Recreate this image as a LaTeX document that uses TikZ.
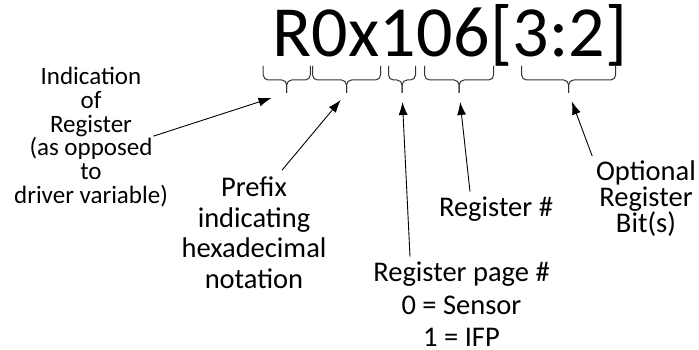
\documentclass[tikz,border=0pt]{standalone}
\usepackage{fontspec}
\setmainfont{Carlito}
\usetikzlibrary{positioning,calc,arrows.meta}

\tikzset{
  code/.style    = {font=\fontsize{72}{72}\selectfont, inner sep=0pt},
  note/.style    = {align=center, inner sep=0pt},
  grpbrace/.style = {draw=black!80, line width=1pt, rounded corners=5pt},
  pointer/.style = {-{Latex[length=13pt,width=9pt]}, line width=0.9pt, shorten >=9pt}
}

% curly brace under a group of characters: [x offset]{node}{half width}{tip name}
\newcommand{\groupbrace}[4][0]{%
  \coordinate (#4) at ($(#2 |- tipline)+(#1,0)$);
  \draw[grpbrace] ($(#4 |- braceend)+(-#3,0)$) |- (#4 |- braceline) -- (#4);
  \draw[grpbrace] ($(#4 |- braceend)+(#3,0)$) |- (#4 |- braceline) -- (#4);
}

\begin{document}
\begin{tikzpicture}[x=1pt, y=1pt]
  \useasboundingbox (0,0) rectangle (699,-350);

  \coordinate (braceend)  at (0,-66);
  \coordinate (braceline) at (0,-80);
  \coordinate (tipline)   at (0,-93);

  % the register name, one node per field
  \node[code, anchor=base west] (reg) at (272,-56.7) {R};
  \node[code, base right=0pt of reg]  (pfx)  {0x};
  \node[code, base right=0pt of pfx]  (page) {1};
  \node[code, base right=0pt of page] (num)  {06};
  \node[code, base right=0pt of num]  (lb)   {[};
  \node[code, base right=0pt of lb]   (bit)  {3:2};
  \node[code, base right=0pt of bit]  (rb)   {]};

  \groupbrace[-5]{reg}{23.5}{regtip}
  \groupbrace[1]{pfx}{34}{pfxtip}
  \groupbrace[4]{page}{13.5}{pagetip}
  \groupbrace[6]{num}{34.5}{numtip}
  \groupbrace[10]{bit}{47}{bittip}

  % explanations, placed by the baseline of their last line
  \node[note, font=\fontsize{25}{23.7}\selectfont, anchor=base] (indic) at (91,-203.3)
    {Indication\\of\\Register\\(as opposed\\to\\driver variable)};
  \node[note, font=\fontsize{28.5}{30.4}\selectfont, anchor=base] (prefix) at (254,-288)
    {Prefix\\indicating\\hexadecimal\\notation};
  \node[note, font=\fontsize{28.5}{32.5}\selectfont, anchor=base] (pagenote) at (461.5,-346.7)
    {Register page \#\\0 = Sensor\\1 = IFP};
  \node[note, font=\fontsize{28.5}{28}\selectfont, anchor=base] (numnote) at (496,-216)
    {Register \#};
  \node[note, font=\fontsize{28.5}{25.7}\selectfont, anchor=base] (bitnote) at (646,-233)
    {Optional\\Register\\Bit(s)};

  \draw[pointer, shorten >=16pt] ([xshift=-14.5pt,yshift=1pt]indic.east) -- (regtip);
  \draw[pointer] ([xshift=28pt,yshift=6.7pt]prefix.north) -- (pfxtip);
  \draw[pointer] ([xshift=-51.5pt,yshift=5.3pt]pagenote.north) -- (pagetip);
  \draw[pointer] ([xshift=-26pt,yshift=4.6pt]numnote.north) -- (numtip);
  \draw[pointer] ([xshift=-3.7pt,yshift=4.5pt]bitnote.north west) -- (bittip);
\end{tikzpicture}
\end{document}
